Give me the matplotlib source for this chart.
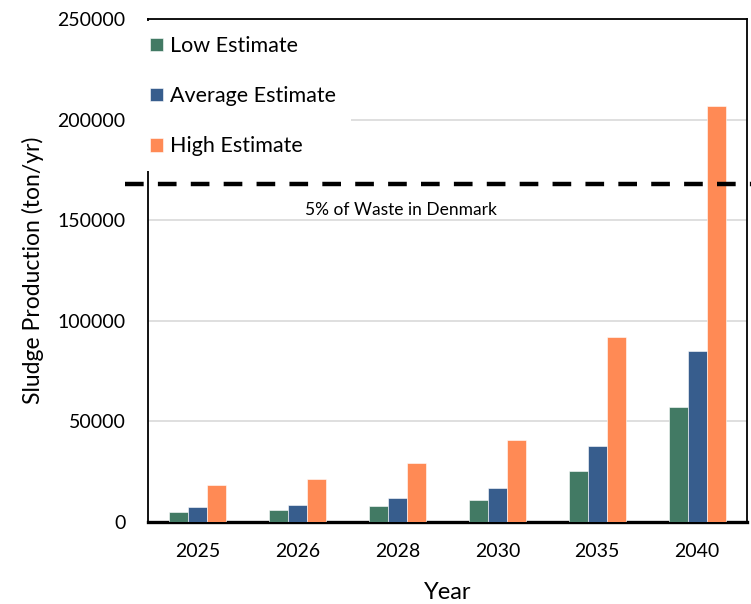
import matplotlib.pyplot as plt
import numpy as np

years = ["2025", "2026", "2028", "2030", "2035", "2040"]
low_est = [4800, 5800, 8000, 11100, 25500, 57000]
avg_est = [7300, 8600, 12100, 16800, 37800, 84900]
high_est = [18200, 21500, 29500, 41000, 91900, 206700]
waste_limit = 168000  # 5% of waste in Denmark

plt.rcParams["font.family"] = ["Lato", "DejaVu Sans"]

fig = plt.figure(figsize=(7.51, 6.04), dpi=100)
ax = fig.add_axes([0.197, 0.1358, 0.7977, 0.832])

x = np.arange(len(years))
w = 0.19
series = [
    (low_est, "Low Estimate", "#427A64"),
    (avg_est, "Average Estimate", "#375D8D"),
    (high_est, "High Estimate", "#FF8A55"),
]
for k, (vals, lab, col) in enumerate(series):
    ax.bar(x + (k - 1) * w, vals, w, label=lab, color=col,
           edgecolor="white", linewidth=0.4, zorder=3)

ax.axhline(waste_limit, xmin=-0.038, xmax=1.01, color="black", lw=3.2,
           dashes=(4.2, 3.2), clip_on=False, zorder=4)
ax.text(2.03, 155000, "5% of Waste in Denmark", ha="center", va="center",
        fontsize=12.5)

ax.set_xlim(-0.5, 5.5)
ax.set_ylim(0, 250000)
ax.set_yticks(np.arange(0, 250001, 50000))
ax.set_xticks(x)
ax.set_xticklabels(years)
ax.tick_params(axis="both", length=0, labelsize=14)
ax.tick_params(axis="y", pad=16)
ax.tick_params(axis="x", pad=15)
ax.grid(axis="y", color="#D9D9D9", lw=1.2, zorder=0)

for side in ["left", "top", "right"]:
    ax.spines[side].set_linewidth(1.3)
ax.spines["bottom"].set_linewidth(2.4)

ax.set_ylabel("Sludge Production (ton/yr)", fontsize=16.5, labelpad=10)
ax.set_xlabel("Year", fontsize=17, labelpad=16)

leg = ax.legend(loc="upper left", bbox_to_anchor=(-0.022, 0.997),
                fontsize=15.5, frameon=True, facecolor="white",
                edgecolor="none", framealpha=1, fancybox=False,
                labelspacing=1.4, handlelength=0.6, handleheight=0.6,
                handletextpad=0.35, borderpad=0.7, borderaxespad=0)
leg.set_zorder(6)

fig.savefig("out.png", dpi=100)
